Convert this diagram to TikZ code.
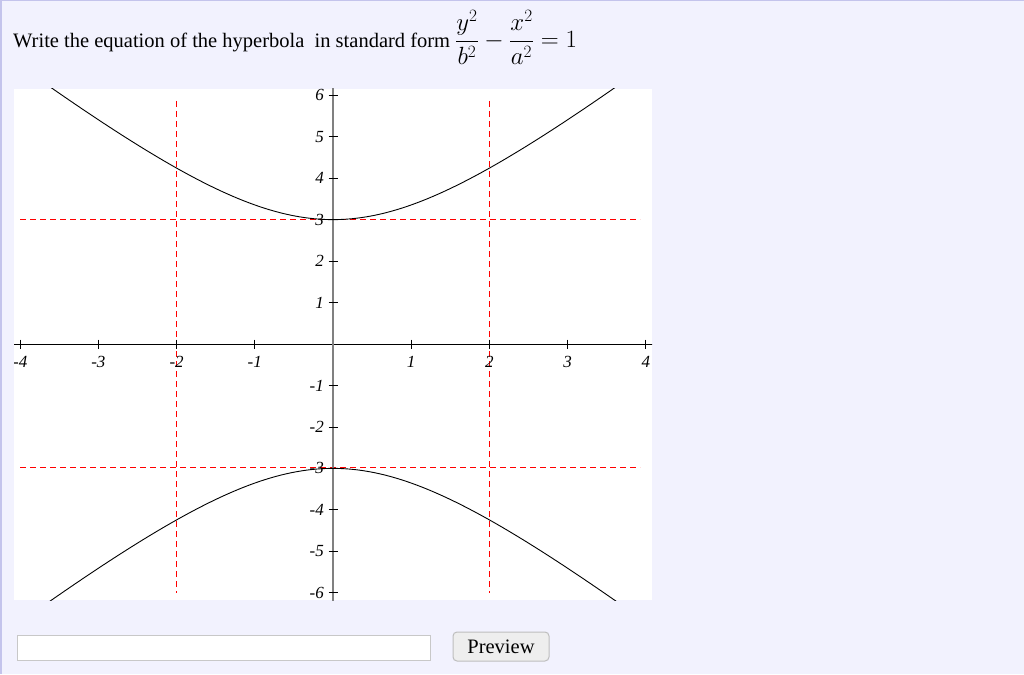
\documentclass[tikz,border=0pt]{standalone}
\usepackage{fontspec}
\setmainfont{Liberation Serif}
\begin{document}
\begin{tikzpicture}[x=1pt,y=-1pt,
  redline/.style={draw=dashred, line width=1.3pt, dash pattern=on 6pt off 4pt},
  tick/.style={draw=black, line width=0.8pt},
  xlab/.style={font=\fontsize{17}{17}\selectfont\itshape, inner sep=0pt, text=black},
  ylab/.style={font=\fontsize{17}{17}\selectfont\itshape, inner sep=0pt, anchor=east, text=black},
]
\definecolor{bg}{HTML}{F2F2FE}
\definecolor{bord}{HTML}{C4C4EC}
\definecolor{dashred}{HTML}{FF0000}
\useasboundingbox (0,0) rectangle (1024,674);
\fill[bg] (0,0) rectangle (1024,674);
\fill[bord] (0,0) rectangle (1024,1);
\fill[bord] (0,0) rectangle (1.8,674);

% title
\node[anchor=base west, inner sep=0pt, font=\fontsize{20.5}{20.5}\selectfont] (title) at (13,48) {Write the equation of the hyperbola\ \ in standard form};
\node[anchor=base west, inner sep=0pt, font=\fontsize{26}{26}\selectfont] (eq) at (455,47.5) {$\displaystyle \frac{y^2}{b^2}-\frac{x^2}{a^2}=1$};

% plot area
\fill[white] (14,89) rectangle (652,600);

% asymptote box lines
\coordinate (h1a) at (20,219.5);  \coordinate (h1b) at (640,219.5);
\coordinate (h2a) at (20,467.5);  \coordinate (h2b) at (640,467.5);
\coordinate (v1a) at (176.5,101); \coordinate (v1b) at (176.5,593);
\coordinate (v2a) at (489.5,101); \coordinate (v2b) at (489.5,593);
\draw[redline] (h1a) -- (h1b);
\draw[redline] (h2a) -- (h2b);
\draw[redline] (v1a) -- (v1b);
\draw[redline] (v2a) -- (v2b);

\begin{scope}
\clip (14,89) rectangle (652,600);
\begin{scope}[shift={(333,344)}, x=78.2pt, y=41.46pt]
  % axes
  \draw[black, line width=0.8pt] (-4.1,0) -- (4.1,0);
  \draw[gray, line width=1.2pt] (0,-6.2) -- (0,6.2);
  % x ticks
  \foreach \i in {-4,-3,-2,-1,1,2,3,4} {
    \draw[tick] (\i,0) ++(0,4.5pt) -- ++(0,-9pt);
  }
  \foreach \i/\n in {-4/xm4,-3/xm3,-2/xm2,-1/xm1,1/xp1,2/xp2,3/xp3,4/xp4} {
    \node[xlab] (\n) at (\i,0) [yshift=-18pt] {\i};
  }
  \foreach \j/\n in {-6/ym6,-5/ym5,-4/ym4,-3/ym3,-2/ym2,-1/ym1,1/yp1,2/yp2,3/yp3,4/yp4,5/yp5,6/yp6} {
    \draw[tick] (0,\j) ++(-4.5pt,0) -- ++(9pt,0);
    \node[ylab] (\n) at (0,\j) [xshift=-9pt] {\j};
  }
  % hyperbola
  \draw[black, line width=0.9pt, smooth, samples=120, domain=-4.1:4.1] plot (\x,{3*sqrt(1+\x*\x/4)});
  \draw[black, line width=0.9pt, smooth, samples=120, domain=-4.1:4.1] plot (\x,{-3*sqrt(1+\x*\x/4)});
\end{scope}
\end{scope}

% input and button
\draw[draw={rgb,255:red,200;green,200;blue,200}, fill=white, line width=1pt] (17,635) rectangle (430,660);
\node[draw={rgb,255:red,190;green,190;blue,190}, fill={rgb,255:red,238;green,238;blue,238}, rounded corners=4pt, line width=1pt, minimum width=96pt, minimum height=29pt, inner sep=0pt, font=\fontsize{20.5}{20.5}\selectfont] (preview) at (501,646.5) {Preview};
\end{tikzpicture}
\end{document}
